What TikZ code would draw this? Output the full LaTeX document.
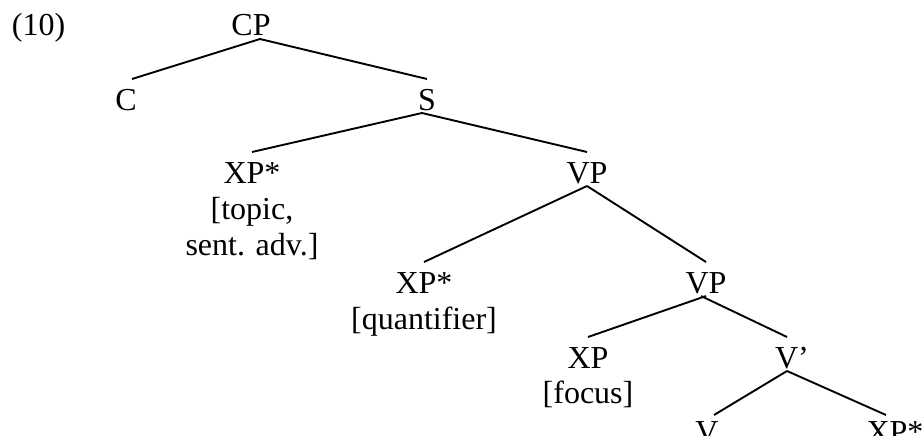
\documentclass[tikz,border=0pt]{standalone}
\usepackage{fontspec}
\setmainfont{Liberation Serif}
\usepackage{tikz}
\usetikzlibrary{positioning}

\begin{document}
\begin{tikzpicture}[
        x = 1pt, y = 1pt,
        cat/.style = {
            font = \fontsize{32}{36}\selectfont,
            inner sep = 0pt,
            outer sep = 0pt,
            text height = 31pt,
            text depth = 3pt,
            anchor = base
        },
        feat/.style = {
            font = \fontsize{32}{36}\selectfont,
            align = center,
            inner sep = 0pt,
            outer sep = 0pt
        },
        branch/.style = {line width = 1.9pt}
        ]
        \useasboundingbox (0,0) rectangle (923,-436);
%
        \node[cat, anchor=base west] (ex) at (12,-36) {(10)};
%
        \node[cat] (CP) at (251,-36) {CP};
        \node[cat] (C) at (126,-110) {C};
        \node[cat] (S) at (427,-110) {S};
%
        \node[cat] (XPa) at (252,-183) {XP*};
        \node[feat, below=11pt of XPa] (XPaF) {[topic,\\sent. adv.]};
        \node[cat] (VPa) at (587,-183) {VP};
%
        \node[cat] (XPb) at (424,-293) {XP*};
        \node[feat, below=11pt of XPb] (XPbF) {[quantifier]};
        \node[cat] (VPb) at (706,-293) {VP};
%
        \node[cat] (XPc) at (588,-368) {XP};
        \node[feat, below=10pt of XPc] (XPcF) {[focus]};
        \node[cat] (Vbar) at (792,-368) {V’};
%
        \node[cat] (V) at (707,-442) {V};
        \node[cat] (XPd) at (895,-442) {XP*};
%
%
        \draw[branch] ([xshift=9pt]CP.south) -- ([xshift=6pt]C.north);
        \draw[branch] ([xshift=9pt]CP.south) -- (S.north);
%
        \draw[branch] ([xshift=-5pt]S.south) -- (XPa.north);
        \draw[branch] ([xshift=-5pt]S.south) -- (VPa.north);
%
        \draw[branch] (VPa.south) -- (XPb.north);
        \draw[branch] (VPa.south) -- (VPb.north);
%
        \draw[branch] (VPb.south) -- (XPc.north);
        \draw[branch] ([xshift=-5pt]VPb.south) -- ([xshift=-5pt]Vbar.north);
%
        \draw[branch] ([xshift=-5pt]Vbar.south) -- ([xshift=7pt, yshift=-4pt]V.north);
        \draw[branch] ([xshift=-5pt]Vbar.south) -- ([xshift=-9pt, yshift=-4pt]XPd.north);
%
    \end{tikzpicture}
\end{document}
